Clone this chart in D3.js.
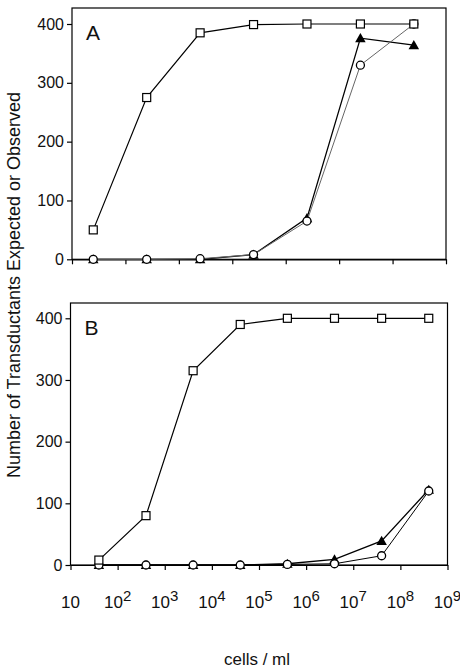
<!DOCTYPE html>
<html>
<head>
<meta charset="utf-8">
<script src="https://cdn.jsdelivr.net/npm/d3@7"></script>
<style>
  body { margin: 0; background: #fff; }
  text { font-family: "Liberation Sans", Arial, sans-serif; fill: #111; }
</style>
</head>
<body>
<svg width="460" height="670"></svg>
<script>
// panel A data (no tick labels on its x axis)
const xA = [250, 2500, 25000, 250000, 2.5e6, 2.5e7, 2.5e8];
const squaresA = [50, 275, 385, 399, 400, 400, 400];
const trianglesA = [0, 0, 0, 8, 70, 376, 364];
const circlesA = [0, 0, 1, 8, 65, 330, 400];

// panel B data
const xB = [40, 400, 4000, 4e4, 4e5, 4e6, 4e7, 4e8];
const squaresB = [8, 80, 315, 390, 400, 400, 400, 400];
const trianglesB = [0, 0, 0, 0, 2, 9, 39, 122];
const circlesB = [0, 0, 0, 0, 1, 2, 15, 120];

const yTicks = [0, 100, 200, 300, 400];
const xTickExp = [1, 2, 3, 4, 5, 6, 7, 8, 9];

const svg = d3.select("svg");

//panels
function panel(o) {
  const x = d3.scaleLog().domain(o.xDomain).range([o.left, o.right]);
  const y = d3.scaleLinear().domain([0, 400]).range([o.y0, o.y400]);
  const g = svg.append("g");

  // frame
  g.append("rect")
    .attr("x", o.left).attr("y", o.top)
    .attr("width", o.right - o.left).attr("height", o.y0 - o.top)
    .attr("fill", "none").attr("stroke", "#000").attr("stroke-width", 1.2);

  const yAxis = d3.axisLeft(y).tickValues(yTicks).tickSize(5).tickSizeOuter(0).tickPadding(3);
  g.append("g").attr("transform", `translate(${o.left},0)`).call(yAxis)
    .call(a => a.select(".domain").remove())
    .selectAll("text").style("font-size", "16px").attr("fill", "#111");

  const xAxis = d3.axisBottom(x).tickValues(o.xTicks).tickSize(5).tickSizeOuter(0).tickFormat("");
  g.append("g").attr("transform", `translate(0,${o.y0})`).call(xAxis)
    .call(a => a.select(".domain").attr("stroke-width", 1.2));

  g.selectAll(".tick line").attr("stroke-width", 1.2);

  g.append("text").attr("x", o.left + 14).attr("y", o.top + 32)
    .style("font-size", "21px").text(o.letter);

  const line = d3.line().x(d => x(d[0])).y(d => y(d[1]));
  const pts = (vals) => vals.map((v, i) => [o.xs[i], v]);

  // triangles
  g.append("path").datum(pts(o.tri)).attr("d", line)
    .attr("fill", "none").attr("stroke", "#000").attr("stroke-width", 1.3);
  g.selectAll(".tri").data(pts(o.tri)).enter().append("path")
    .attr("d", d3.symbol(d3.symbolTriangle, 48))
    .attr("transform", d => `translate(${x(d[0])},${y(d[1]) + 1})`)
    .attr("fill", "#000");

  // circles
  g.append("path").datum(pts(o.circ)).attr("d", line)
    .attr("fill", "none").attr("stroke", o.circStroke).attr("stroke-width", 1);
  g.selectAll(".circ").data(pts(o.circ)).enter().append("circle")
    .attr("cx", d => x(d[0])).attr("cy", d => y(d[1])).attr("r", 4)
    .attr("fill", "#fff").attr("stroke", "#000").attr("stroke-width", 1.3);

  // squares
  g.append("path").datum(pts(o.sq)).attr("d", line)
    .attr("fill", "none").attr("stroke", "#000").attr("stroke-width", 1.2);
  g.selectAll(".sq").data(pts(o.sq)).enter().append("rect")
    .attr("x", d => x(d[0]) - 4).attr("y", d => y(d[1]) - 4)
    .attr("width", 8).attr("height", 8)
    .attr("fill", "#fff").attr("stroke", "#000").attr("stroke-width", 1.2);

  return x;
}

panel({
  letter: "A", xDomain: [1e2, 1e9], xTicks: xTickExp.slice(1).map(e => Math.pow(10, e)),
  left: 72, right: 446, top: 8, y0: 259.3, y400: 24,
  xs: xA, sq: squaresA, tri: trianglesA, circ: circlesA, circStroke: "#666"
});

const xb = panel({
  letter: "B", xDomain: [10, 1e9], xTicks: xTickExp.map(e => Math.pow(10, e)),
  left: 70.5, right: 447.5, top: 303, y0: 565, y400: 318.3,
  xs: xB, sq: squaresB, tri: trianglesB, circ: circlesB, circStroke: "#000"
});

// x tick labels with superscripts
const lab = svg.append("g").selectAll("text").data(xTickExp).enter().append("text")
  .attr("x", d => xb(Math.pow(10, d)))
  .attr("y", 608)
  .attr("text-anchor", "middle")
  .style("font-size", "17px");
lab.append("tspan").text("10");
lab.filter(d => d > 1).append("tspan")
  .attr("dy", -7).style("font-size", "15px").text(d => d);

svg.append("text").attr("x", 257).attr("y", 665)
  .attr("text-anchor", "middle").style("font-size", "17px").text("cells / ml");

svg.append("text")
  .attr("transform", "translate(20,285) rotate(-90)")
  .attr("text-anchor", "middle").style("font-size", "18px")
  .text("Number of Transductants Expected or  Observed");
</script>
</body>
</html>
